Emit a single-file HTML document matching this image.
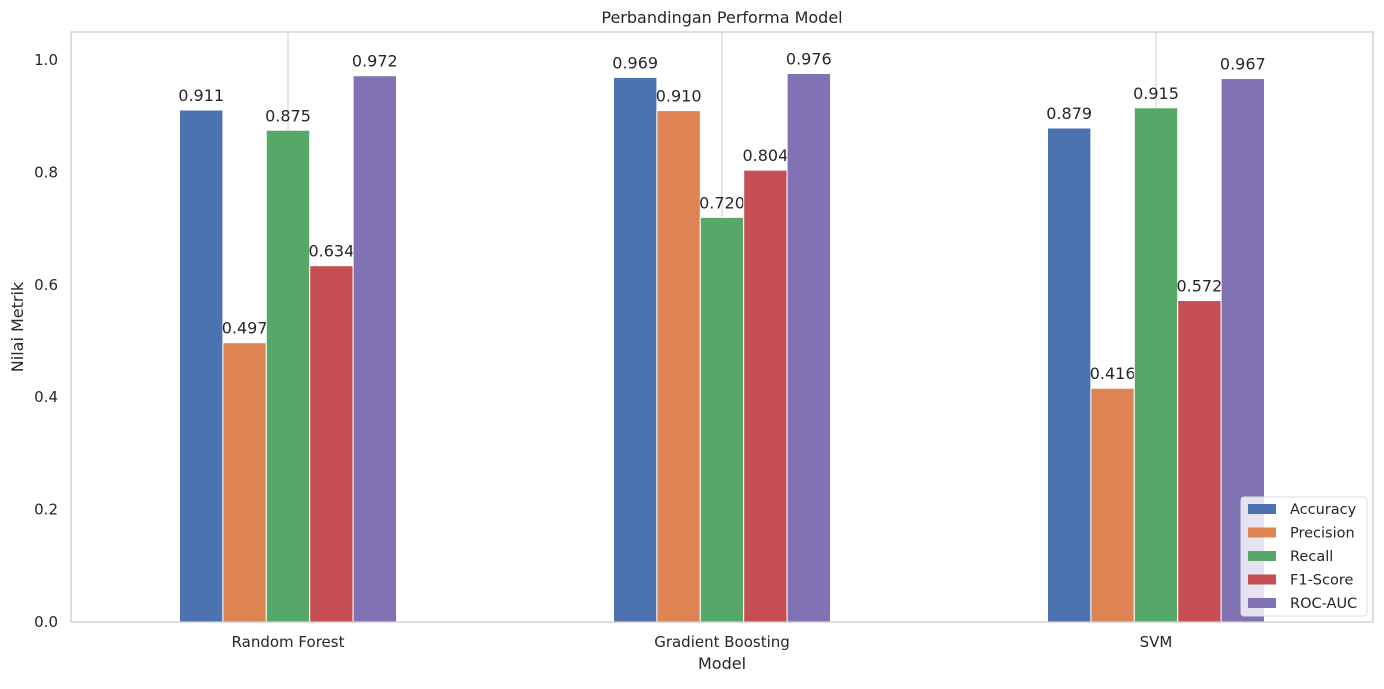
<!DOCTYPE html>
<html><head><meta charset="utf-8"><style>
body{margin:0;background:#fff;}
svg text{font-family:"DejaVu Sans","Liberation Sans",sans-serif;fill:#262626;}
</style></head><body>
<svg id="chart" width="1384" height="684" xmlns="http://www.w3.org/2000/svg">
<rect width="1384" height="684" fill="#fff"/>
<g id="plot"></g>
</svg>
<script>
const categories = ["Random Forest","Gradient Boosting","SVM"];
const seriesNames = ["Accuracy","Precision","Recall","F1-Score","ROC-AUC"];
const accuracy = [0.911,0.969,0.879];
const precision = [0.497,0.910,0.416];
const recall = [0.875,0.720,0.915];
const f1 = [0.634,0.804,0.572];
const rocauc = [0.972,0.976,0.967];
const yTicks = [0.0,0.2,0.4,0.6,0.8,1.0];
const colors = ["#4c72b0","#dd8452","#55a868","#c44e52","#8172b3"];
const series = [accuracy,precision,recall,f1,rocauc];

const L=71,R=1373,T=32,B=622;
const y = v => 622 - v*562;
const step = (R-L)/3;
const xc = i => L + step*(i+0.5);
const bw = step*0.5/5;
const ns="http://www.w3.org/2000/svg";
const g=document.getElementById('plot');
function mk(tag,attrs,txt){const e=document.createElementNS(ns,tag);for(const k in attrs)e.setAttribute(k,attrs[k]);if(txt!==undefined)e.textContent=txt;g.appendChild(e);return e;}

categories.forEach((c,i)=>{
  const gl=mk('line',{x1:xc(i),x2:xc(i),y1:T,y2:B,stroke:'#cccccc','stroke-width':1});
  
  
});
series.forEach((s,j)=>{
  s.forEach((v,i)=>{
    const x=xc(i)-2.5*bw+j*bw;
    const r=mk('rect',{x:x,y:y(v),width:bw,height:B-y(v),fill:colors[j],stroke:'#fff','stroke-width':1});
    
    
    const t=mk('text',{x:x+bw/2,y:y(v)-9,'text-anchor':'middle','font-size':16},v.toFixed(3));
    
    
  });
});
const fr=mk('rect',{x:L,y:T,width:R-L,height:B-T,fill:'none',stroke:'#cccccc','stroke-width':1.3});


yTicks.forEach(v=>{
  const t=mk('text',{x:L-13,y:y(v)+5,'text-anchor':'end','font-size':15},v.toFixed(1));
  
  
});
categories.forEach((c,i)=>{
  const t=mk('text',{x:xc(i),y:B+25,'text-anchor':'middle','font-size':15},c);
  
  
});
let t=mk('text',{x:(L+R)/2,y:669,'text-anchor':'middle','font-size':16},'Model');


t=mk('text',{x:23,y:(T+B)/2,'text-anchor':'middle','font-size':16,transform:`rotate(-90 23 ${(T+B)/2})`},'Nilai Metrik');


t=mk('text',{x:(L+R)/2,y:23,'text-anchor':'middle','font-size':16},'Perbandingan Performa Model');


const lg=mk('rect',{x:1241,y:497,width:126,height:119,rx:3,fill:'rgba(255,255,255,0.8)',stroke:'#dddddd','stroke-width':1});


seriesNames.forEach((n,j)=>{
  const yy=509+j*23.5;
  const sw=mk('rect',{x:1248,y:yy-5,width:28,height:10,fill:colors[j]});
  
  
  const lt=mk('text',{x:1290,y:yy+5,'font-size':14.5},n);
  
  
});
</script>
</body></html>
